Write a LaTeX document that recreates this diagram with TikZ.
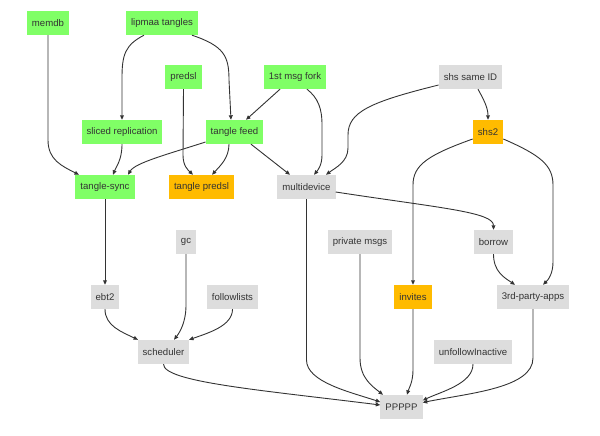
\documentclass[tikz,border=0pt]{standalone}
\usepackage{fontspec}
\setmainfont{Liberation Sans}
\usetikzlibrary{arrows.meta}
\definecolor{gfill}{HTML}{80FF66}
\definecolor{ofill}{HTML}{FFBB00}
\definecolor{nfill}{HTML}{DDDDDD}
\definecolor{ink}{HTML}{333333}
\tikzset{
  box/.style={rectangle, minimum height=24pt, inner xsep=5pt, inner ysep=0pt,
    font=\fontsize{9.6pt}{11pt}\selectfont, text=ink, anchor=center},
  gbox/.style={box, fill=gfill},
  obox/.style={box, fill=ofill},
  nbox/.style={box, fill=nfill},
  edge/.style={draw=ink, line width=0.9pt, -{Triangle[length=4.5pt,width=3.8pt]}},
}
\begin{document}
\begin{tikzpicture}[x=1pt,y=-1pt]
\useasboundingbox (0,0) rectangle (600,436);
\node[gbox] (memdb) at (48,23) {memdb};
\node[gbox] (lipmaa) at (162,23) {lipmaa tangles};
\node[gbox] (predsl) at (183.5,77) {predsl};
\node[gbox] (fork) at (295,77) {1st msg fork};
\node[nbox] (shsid) at (470.5,77) {shs same ID};
\node[gbox] (sliced) at (122,132) {sliced replication};
\node[gbox] (feed) at (234.5,132) {tangle feed};
\node[obox] (shs2) at (488,132) {shs2};
\node[gbox] (sync) at (105,187) {tangle-sync};
\node[obox] (tpredsl) at (201.5,187) {tangle predsl};
\node[nbox] (multi) at (306.5,187) {multidevice};
\node[nbox] (gc) at (186,242) {gc};
\node[nbox] (private) at (360,242) {private msgs};
\node[nbox] (borrow) at (493.5,242) {borrow};
\node[nbox] (ebt2) at (105,297) {ebt2};
\node[nbox] (followlists) at (232.5,297) {followlists};
\node[obox] (invites) at (413,297) {invites};
\node[nbox] (apps) at (533,297) {3rd-party-apps};
\node[nbox] (scheduler) at (163.5,352) {scheduler};
\node[nbox] (unfollow) at (473,352) {unfollowInactive};
\node[nbox] (ppppp) at (401.5,407) {PPPPP};

\path[edge] (memdb.south) -- (48,140) .. controls (48,160) and (62,166) .. ([xshift=-26pt]sync.north);
\path[edge] ([xshift=-18pt]lipmaa.south) .. controls (125,45) and (122,55) .. (122,78) -- (sliced.north);
\path[edge] ([xshift=30pt]lipmaa.south) .. controls (224,46) and (229,56) .. (229,80) -- ([xshift=-3.5pt]feed.north);
\path[edge] (predsl.south) -- (183,155) .. controls (183,166) and (188,170) .. ([xshift=-8.5pt]tpredsl.north);
\path[edge] ([xshift=-15pt]fork.south) -- ([xshift=11.5pt]feed.north);
\path[edge] ([xshift=12pt]fork.south) .. controls (318,98) and (322,108) .. (322,125) -- (322,155) .. controls (322,165) and (318,170) .. ([xshift=7.5pt]multi.north);
\path[edge] (sliced.south) .. controls (122,160) and (116,167) .. ([xshift=8pt]sync.north);
\path[edge] ([yshift=-10pt]feed.west) .. controls (165,155) and (135,163) .. ([xshift=23pt]sync.north);
\path[edge] ([xshift=-5.5pt]feed.south) .. controls (229,158) and (220,166) .. ([xshift=10.5pt]tpredsl.north);
\path[edge] ([xshift=16.5pt]feed.south) -- ([xshift=-16.5pt]multi.north);
\path[edge] ([yshift=-8pt]shsid.west) .. controls (370,102) and (348,112) .. (348,135) -- (348,148) .. controls (348,162) and (335,168) .. ([xshift=19.5pt]multi.north);
\path[edge] ([xshift=7.5pt]shsid.south) .. controls (484,100) and (488,108) .. (shs2.north);
\path[edge] ([yshift=-7pt]shs2.west) .. controls (428,155) and (413,165) .. (413,185) -- (invites.north);
\path[edge] ([yshift=-7pt]shs2.east) .. controls (540,155) and (553,165) .. (553,185) -- (553,262) .. controls (553,274) and (548,280) .. ([xshift=10pt]apps.north);
\path[edge] ([yshift=-5pt]multi.east) .. controls (440,208) and (493.5,212) .. (borrow.north);
\path[edge] (multi.south) -- (306.5,360) .. controls (306.5,382) and (350,392) .. ([yshift=5pt]ppppp.west);
\path[edge] (sync.south) -- (ebt2.north);
\path[edge] (ebt2.south) .. controls (105,326) and (122,332) .. ([xshift=-25.5pt]scheduler.north);
\path[edge] (gc.south) -- (186,305) .. controls (186,322) and (180,332) .. ([xshift=10.5pt]scheduler.north);
\path[edge] (followlists.south) .. controls (232.5,326) and (208,333) .. ([xshift=25.5pt]scheduler.north);
\path[edge] (scheduler.south) .. controls (163.5,382) and (260,390) .. ([yshift=2pt]ppppp.west);
\path[edge] (private.south) -- (360,358) .. controls (360,378) and (372,386) .. ([xshift=-18.5pt]ppppp.north);
\path[edge] (invites.south) -- (413,370) .. controls (413,382) and (409,388) .. ([xshift=5.5pt]ppppp.north);
\path[edge] (unfollow.south) .. controls (473,384) and (440,392) .. ([yshift=6.5pt]ppppp.east);
\path[edge] (apps.south) -- (533,358) .. controls (533,388) and (470,393) .. ([yshift=4.5pt]ppppp.east);
\path[edge] (borrow.south) .. controls (493.5,272) and (505,278) .. ([xshift=-18pt]apps.north);
\end{tikzpicture}
\end{document}
